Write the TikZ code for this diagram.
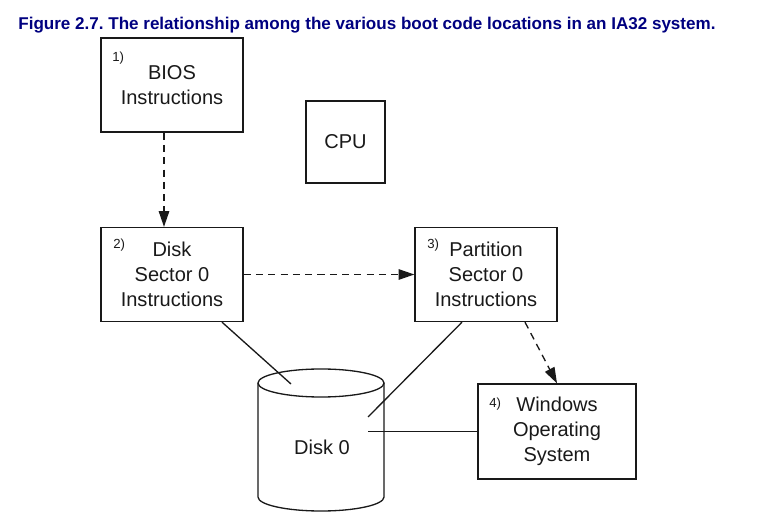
\documentclass[tikz,border=0pt]{standalone}
\usepackage{fontspec}
\setmainfont{Liberation Sans}
\usetikzlibrary{arrows.meta, positioning}
\frenchspacing
\definecolor{titleblue}{RGB}{0, 0, 128}
\definecolor{inkgray}{RGB}{25, 25, 25}
\tikzset{
  bootbox/.style={draw=inkgray, line width=0.75pt, minimum width=2.84cm, minimum height=1.88cm, align=center, text=inkgray, font=\fontsize{11.4}{14.2}\selectfont, inner sep=0pt},
  steplabel/.style={font=\fontsize{7.5}{8}\selectfont, text=inkgray, anchor=west, inner sep=0pt},
  flow/.style={draw=inkgray, -{Triangle[length=9pt, width=6pt]}, dash pattern=on 4pt off 3pt, line width=0.75pt},
  wire/.style={draw=inkgray, line width=0.75pt}
}
\begin{document}
\begin{tikzpicture}[x=0.2mm, y=-0.2mm]
  \useasboundingbox (0,0) rectangle (762,531);

  % Title
  \node[font=\fontsize{9.7}{11}\selectfont\bfseries, text=titleblue, anchor=west, inner sep=0pt] (title) at (18,25.5) {Figure 2.7. The relationship among the various boot code locations in an IA32 system.};

  % Boot stages
  \node[bootbox] (bios) at (172,85) {BIOS\\Instructions};
  \node[bootbox, minimum width=1.58cm, minimum height=1.64cm] (cpu) at (345.5,142) {CPU};
  \node[bootbox] (mbr) at (172,274.5) {Disk\\Sector 0\\Instructions};
  \node[bootbox] (vbr) at (486,274.5) {Partition\\Sector 0\\Instructions};
  \node[bootbox, minimum width=3.16cm, minimum height=1.9cm] (win) at (557,431.5) {Windows\\Operating\\System};

  % Step numbers
  \node[steplabel] (n1) at (112,58) {1)};
  \node[steplabel] (n2) at (113,245) {2)};
  \node[steplabel] (n3) at (427,245) {3)};
  \node[steplabel] (n4) at (489,404) {4)};

  % Disk 0
  \draw[wire] (258,383) -- (258,497) arc[start angle=180, end angle=0, x radius=63, y radius=14] -- (384,383);
  \draw[wire] (321,383) ellipse [x radius=63, y radius=14];
  \node[font=\fontsize{11.4}{14.2}\selectfont, text=inkgray] (disk) at (322,447) {Disk 0};
  \coordinate (diskTop) at (291,384);
  \coordinate (diskMid) at (368,417);
  \coordinate (diskPort) at (368,431.5);

  % Connectors
  \draw[flow] ([xshift=-1.6mm]bios.south) -- ([xshift=-1.6mm]mbr.north);
  \draw[flow] (mbr) -- (vbr);
  \draw[flow] ([xshift=7.8mm]vbr.south) -- (win.north);
  \draw[wire] ([xshift=10mm]mbr.south) -- (diskTop);
  \draw[wire] ([xshift=-4.8mm]vbr.south) -- (diskMid);
  \draw[wire] (diskPort) -- (win.west);
\end{tikzpicture}
\end{document}
